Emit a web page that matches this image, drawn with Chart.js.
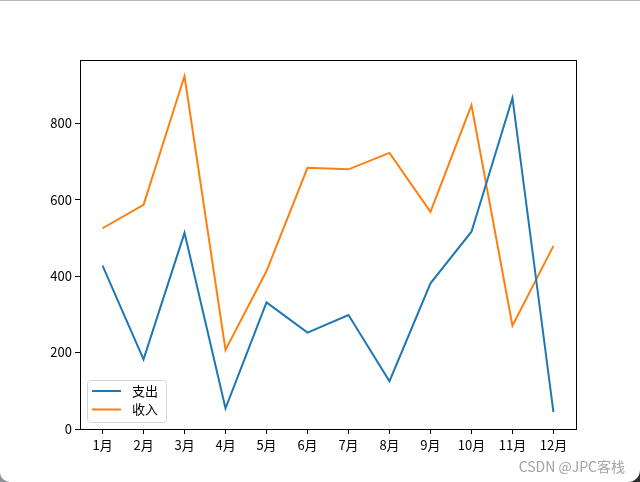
<!DOCTYPE html>
<html>
<head>
<meta charset="utf-8">
<script src="https://cdn.jsdelivr.net/npm/chart.js@4/dist/chart.umd.min.js"></script>
<style>
    html, body { margin: 0; padding: 0; }
    body { width: 640px; height: 482px; overflow: hidden; background: linear-gradient(90deg, #8d939b 0%, #8d939b 50%, #2e2e2e 50%, #2e2e2e 100%); position: relative; }
    #page { position: absolute; left: 0; top: 0; width: 640px; height: 482px; background: #fff; border-bottom-left-radius: 10px; border-bottom-right-radius: 12px; }
    #topline { position: absolute; left: 0; top: 0; width: 640px; height: 1px; background: #b9b9b9; }
    #chart { position: absolute; left: 0; top: 0; }
    #mark { position: absolute; right: 15px; top: 456px; font: 14px "Noto Sans CJK SC", "DejaVu Sans", sans-serif; color: #a3a3a3; white-space: nowrap; }
</style>
</head>
<body>
<div id="page">
    <canvas id="chart" width="640" height="482"></canvas>
    <div id="topline"></div>
    <div id="mark">CSDN @JPC客栈</div>
</div>
<script>
const months = ['1月', '2月', '3月', '4月', '5月', '6月', '7月', '8月', '9月', '10月', '11月', '12月'];
const spending = [427, 182, 513, 54, 331, 252, 298, 125, 381, 516, 866, 44];
const income = [525, 586, 923, 207, 413, 683, 679, 722, 568, 847, 270, 479];
const yTicks = [0, 200, 400, 600, 800];
const seriesNames = ['支出', '收入'];
const seriesColors = ['#1f77b4', '#ff7f0e'];

const FONT = '"Noto Sans CJK SC", "DejaVu Sans", sans-serif';

// matplotlib style frame + legend inside lower left
const framePlugin = {
    id: 'frame',
    afterDatasetsDraw(chart) {
        const { ctx, chartArea: a } = chart;
        ctx.save();
        ctx.strokeStyle = '#000';
        ctx.lineWidth = 1;
        ctx.strokeRect(a.left + 0.5, a.top + 0.5, a.right - a.left, a.bottom - a.top);

        // legend box
        const bx = a.left + 7, by = a.bottom - 49, bw = 79, bh = 42;
        ctx.beginPath();
        ctx.roundRect(bx + 0.5, by + 0.5, bw, bh, 3);
        ctx.fillStyle = 'rgba(255,255,255,0.8)';
        ctx.fill();
        ctx.strokeStyle = '#d6d6d6';
        ctx.stroke();
        ctx.font = '13px ' + FONT;
        ctx.textBaseline = 'middle';
        chart.data.datasets.forEach((ds, i) => {
            const y = by + 11 + i * 18.5;
            ctx.beginPath();
            ctx.moveTo(bx + 5, y);
            ctx.lineTo(bx + 34, y);
            ctx.strokeStyle = ds.borderColor;
            ctx.lineWidth = 2;
            ctx.stroke();
            ctx.fillStyle = '#000';
            ctx.fillText(ds.label, bx + 45, y);
        });
        ctx.restore();
    }
};

new Chart(document.getElementById('chart'), {
    type: 'line',
    data: {
        datasets: [
            {
                label: seriesNames[0],
                data: spending.map((v, i) => ({ x: i, y: v })),
                borderColor: seriesColors[0],
                borderWidth: 2,
                pointRadius: 0,
                tension: 0,
            },
            {
                label: seriesNames[1],
                data: income.map((v, i) => ({ x: i, y: v })),
                borderColor: seriesColors[1],
                borderWidth: 2,
                pointRadius: 0,
                tension: 0,
            }
        ]
    },
    options: {
        responsive: false,
        animation: false,
        events: [],
        layout: { padding: { top: 60, right: 64, left: 0, bottom: 0 } },
        plugins: { legend: { display: false }, tooltip: { enabled: false } },
        scales: {
            x: {
                type: 'linear',
                min: -0.55,
                max: 11.55,
                afterBuildTicks: (axis) => { axis.ticks = months.map((m, i) => ({ value: i })); },
                afterFit: (axis) => { axis.height = 53; },
                ticks: {
                    autoSkip: false,
                    maxRotation: 0,
                    color: '#000',
                    padding: 3,
                    font: { family: FONT, size: 13 },
                    callback: (v) => months[v],
                },
                grid: { drawOnChartArea: false, color: '#000', tickLength: 5 },
                border: { color: '#000' },
            },
            y: {
                min: 0,
                max: 965,
                afterBuildTicks: (axis) => { axis.ticks = yTicks.map((v) => ({ value: v })); },
                afterFit: (axis) => { axis.width = 80; },
                ticks: {
                    color: '#000',
                    padding: 3,
                    font: { family: FONT, size: 13 },
                },
                grid: { drawOnChartArea: false, color: '#000', tickLength: 5 },
                border: { color: '#000' },
            }
        }
    },
    plugins: [framePlugin]
});
</script>
</body>
</html>
